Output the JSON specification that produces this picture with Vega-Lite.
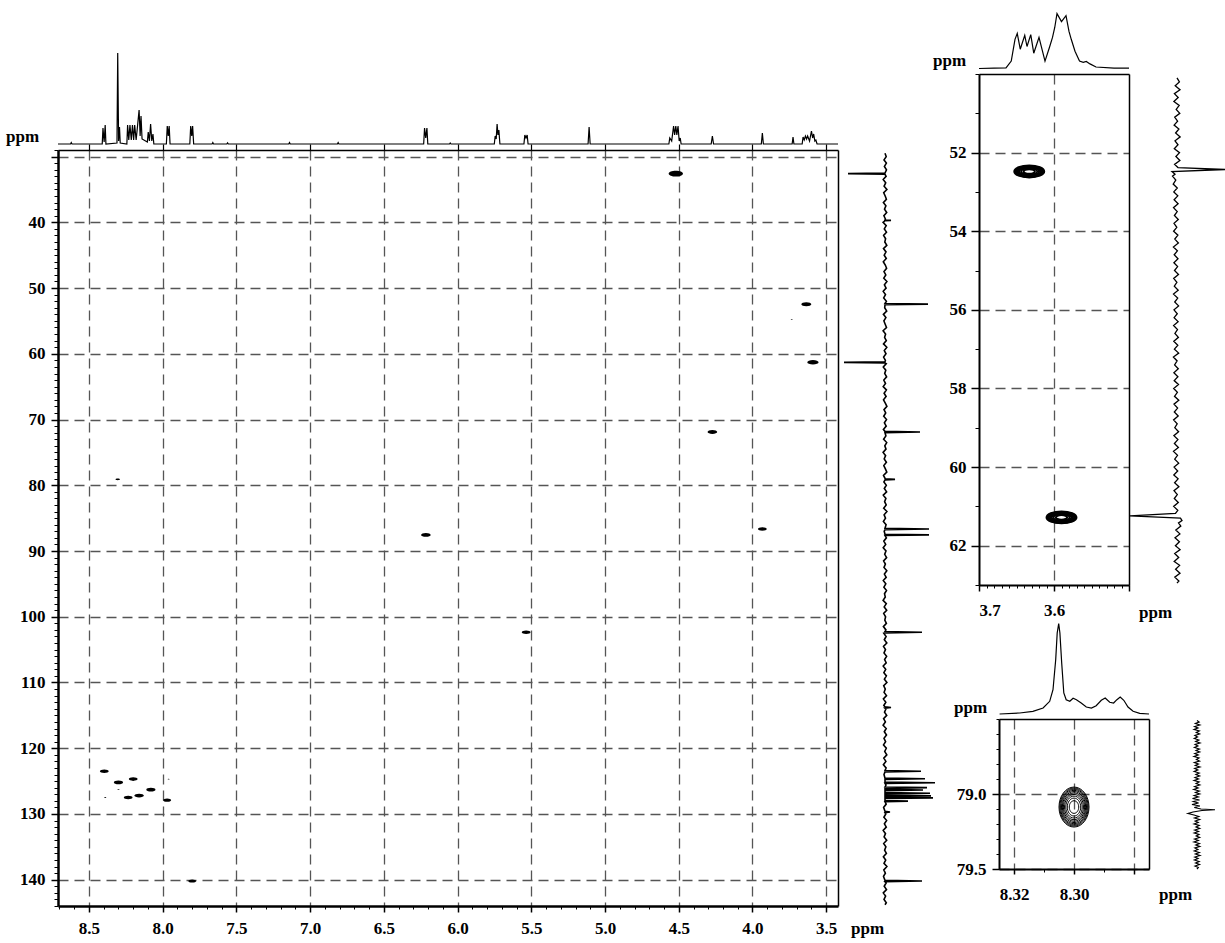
{
"$schema": "https://vega.github.io/schema/vega-lite/v6.json",
"width": 1225, "height": 943,
"autosize": {"type": "none"},
"padding": 0,
"background": "white",
"config": {
  "view": {"stroke": null},
  "axis": {"labelFont": "Liberation Serif", "labelFontWeight": "bold", "labelFontSize": 17, "labelColor": "black",
           "titleFont": "Liberation Serif", "titleFontWeight": "bold", "titleFontSize": 17, "titleColor": "black",
           "domainColor": "black", "tickColor": "black", "gridColor": "#555555", "gridDash": [10, 6], "gridWidth": 1.3, "gridOpacity": 1}
},
"datasets": {
  "none": [],
  "hsqc": [
    {"h":4.52,"c":32.6,"int":0.8},{"h":3.635,"c":52.48,"int":0.39},{"h":3.734,"c":54.8,"int":0.02},
    {"h":3.59,"c":61.28,"int":0.5},{"h":4.272,"c":71.9,"int":0.36},{"h":8.305,"c":79.1,"int":0.08},
    {"h":6.215,"c":87.55,"int":0.36},{"h":3.933,"c":86.65,"int":0.3},{"h":5.535,"c":102.35,"int":0.3},
    {"h":7.8,"c":140.2,"int":0.25},{"h":8.396,"c":123.5,"int":0.3},{"h":8.3,"c":125.2,"int":0.33},
    {"h":8.2,"c":124.7,"int":0.3},{"h":8.234,"c":127.5,"int":0.3},{"h":8.16,"c":127.2,"int":0.36},
    {"h":8.08,"c":126.3,"int":0.33},{"h":7.97,"c":127.9,"int":0.25},{"h":8.3,"c":126.3,"int":0.02},
    {"h":8.39,"c":127.5,"int":0.02},{"h":7.96,"c":124.7,"int":0.02}
  ],
  "top": [
    {"h":8.71,"i":0},{"h":8.625,"i":0},{"h":8.62,"i":1.5},{"h":8.615,"i":0},
    {"h":8.41,"i":0},{"h":8.405,"i":16},{"h":8.397,"i":2},{"h":8.39,"i":19},{"h":8.385,"i":0},
    {"h":8.31,"i":1},{"h":8.305,"i":91},{"h":8.299,"i":3},{"h":8.293,"i":17},{"h":8.288,"i":1},
    {"h":8.243,"i":0},{"h":8.238,"i":19},{"h":8.23,"i":4},{"h":8.222,"i":19},{"h":8.213,"i":4},{"h":8.205,"i":19},{"h":8.197,"i":4},{"h":8.19,"i":19},{"h":8.18,"i":4},{"h":8.16,"i":34},{"h":8.153,"i":8},{"h":8.147,"i":28},{"h":8.14,"i":5},
    {"h":8.104,"i":2},{"h":8.098,"i":12},{"h":8.09,"i":3},{"h":8.082,"i":20},{"h":8.074,"i":3},{"h":8.066,"i":10},{"h":8.06,"i":0},
    {"h":7.975,"i":0},{"h":7.969,"i":18},{"h":7.962,"i":8},{"h":7.956,"i":18},{"h":7.95,"i":0},
    {"h":7.816,"i":0},{"h":7.81,"i":18},{"h":7.803,"i":8},{"h":7.797,"i":18},{"h":7.79,"i":0},
    {"h":7.665,"i":0},{"h":7.66,"i":1.5},{"h":7.655,"i":0},
    {"h":7.565,"i":0},{"h":7.56,"i":1.2},{"h":7.555,"i":0},
    {"h":7.145,"i":0},{"h":7.14,"i":1.5},{"h":7.135,"i":0},
    {"h":6.815,"i":0},{"h":6.81,"i":1.5},{"h":6.805,"i":0},
    {"h":6.23,"i":0},{"h":6.224,"i":16},{"h":6.216,"i":6},{"h":6.208,"i":16},{"h":6.202,"i":0},
    {"h":6.055,"i":0},{"h":6.05,"i":1},{"h":6.045,"i":0},
    {"h":5.751,"i":0},{"h":5.745,"i":8},{"h":5.738,"i":5},{"h":5.732,"i":20},{"h":5.726,"i":9},{"h":5.72,"i":14},{"h":5.713,"i":0},
    {"h":5.55,"i":0},{"h":5.544,"i":9},{"h":5.536,"i":6},{"h":5.528,"i":9},{"h":5.522,"i":0},
    {"h":5.115,"i":0},{"h":5.108,"i":17},{"h":5.101,"i":0},
    {"h":4.567,"i":0},{"h":4.561,"i":6},{"h":4.548,"i":3},{"h":4.535,"i":18},{"h":4.528,"i":9},{"h":4.52,"i":18},{"h":4.513,"i":9},{"h":4.505,"i":18},{"h":4.497,"i":3},{"h":4.49,"i":6},{"h":4.484,"i":0},
    {"h":4.28,"i":0},{"h":4.272,"i":8},{"h":4.264,"i":0},
    {"h":3.94,"i":0},{"h":3.933,"i":11},{"h":3.926,"i":0},
    {"h":3.731,"i":0},{"h":3.725,"i":7},{"h":3.719,"i":0},
    {"h":3.663,"i":0},{"h":3.657,"i":7},{"h":3.649,"i":4},{"h":3.641,"i":8},{"h":3.633,"i":5},{"h":3.626,"i":8},{"h":3.613,"i":3},{"h":3.6,"i":13},{"h":3.592,"i":6},{"h":3.585,"i":10},{"h":3.577,"i":3},{"h":3.57,"i":4},{"h":3.562,"i":0},
    {"h":3.42,"i":0}
  ],
  "right": [
    {"c":29.5,"i":0},{"c":30,"i":1.2},{"c":30.5,"i":-1},{"c":31,"i":1.4},{"c":31.5,"i":-0.6},{"c":32,"i":1.5},{"c":32.5,"i":0},{"c":32.6,"i":-37},{"c":32.7,"i":0},
    {"c":33,"i":1.1},{"c":33.5,"i":-1.8},{"c":34,"i":0.7},{"c":34.5,"i":-0.9},{"c":35,"i":1.9},{"c":35.5,"i":-1.3},{"c":36,"i":0.2},{"c":36.5,"i":1.4},{"c":37,"i":-1.6},{"c":37.5,"i":0.9},{"c":38,"i":-0.5},{"c":38.5,"i":1.7},{"c":39,"i":-1.1},{"c":39.5,"i":0.4},{"c":39.65,"i":0},{"c":39.7,"i":6},{"c":39.75,"i":0},
    {"c":40,"i":-1.9},{"c":40.5,"i":1.2},{"c":41,"i":-0.7},{"c":41.5,"i":1.5},{"c":42,"i":-1.4},{"c":42.5,"i":0.6},{"c":43,"i":-0.2},{"c":43.5,"i":1.8},{"c":44,"i":-1.5},{"c":44.5,"i":1.0},{"c":45,"i":-0.8},{"c":45.5,"i":1.3},{"c":46,"i":-1.7},{"c":46.5,"i":0.3},{"c":47,"i":1.6},{"c":47.5,"i":-1.0},{"c":48,"i":0.8},{"c":48.5,"i":-1.2},{"c":49,"i":1.9},{"c":49.5,"i":-0.6},{"c":50,"i":1.1},{"c":50.5,"i":-1.8},{"c":51,"i":0.5},{"c":51.5,"i":-1.3},{"c":52,"i":1.4},{"c":52.35,"i":0},{"c":52.45,"i":43},{"c":52.55,"i":0},
    {"c":53,"i":-0.3},{"c":53.5,"i":1.7},{"c":54,"i":-1.6},{"c":54.5,"i":0.9},{"c":55,"i":-1.1},{"c":55.5,"i":0.2},{"c":56,"i":1.5},{"c":56.5,"i":-1.9},{"c":57,"i":0.6},{"c":57.5,"i":-0.4},{"c":58,"i":1.3},{"c":58.5,"i":-1.5},{"c":59,"i":1.8},{"c":59.5,"i":-0.7},{"c":60,"i":1.0},{"c":60.5,"i":-1.4},{"c":61,"i":0.4},{"c":61.2,"i":0},{"c":61.3,"i":-41},{"c":61.4,"i":0},
    {"c":61.5,"i":1.2},{"c":62,"i":-1.7},{"c":62.5,"i":0.8},{"c":63,"i":-0.3},{"c":63.5,"i":1.6},{"c":64,"i":-1.2},{"c":64.5,"i":0.5},{"c":65,"i":-1.8},{"c":65.5,"i":1.4},{"c":66,"i":-0.9},{"c":66.5,"i":1.1},{"c":67,"i":-1.5},{"c":67.5,"i":0.3},{"c":68,"i":1.9},{"c":68.5,"i":-1.0},{"c":69,"i":0.7},{"c":69.5,"i":-1.3},{"c":70,"i":1.5},{"c":70.5,"i":-0.6},{"c":71,"i":1.2},{"c":71.5,"i":-1.6},{"c":71.8,"i":0},{"c":71.9,"i":35},{"c":72,"i":0},
    {"c":72.5,"i":0.9},{"c":73,"i":-1.4},{"c":73.5,"i":1.7},{"c":74,"i":-0.2},{"c":74.5,"i":1.0},{"c":75,"i":-1.9},{"c":75.5,"i":0.6},{"c":76,"i":-0.8},{"c":76.5,"i":1.4},{"c":77,"i":-1.2},{"c":77.5,"i":0.4},{"c":78,"i":1.8},{"c":78.5,"i":-1.5},{"c":79,"i":0.2},{"c":79.1,"i":10},{"c":79.2,"i":0},
    {"c":79.5,"i":-1.1},{"c":80,"i":1.3},{"c":80.5,"i":-0.7},{"c":81,"i":1.6},{"c":81.5,"i":-1.7},{"c":82,"i":0.9},{"c":82.5,"i":-0.4},{"c":83,"i":1.2},{"c":83.5,"i":-1.3},{"c":84,"i":1.9},{"c":84.5,"i":-0.9},{"c":85,"i":0.5},{"c":85.5,"i":-1.6},{"c":86,"i":1.1},{"c":86.55,"i":0},{"c":86.65,"i":44},{"c":86.75,"i":0},{"c":87,"i":-0.8},{"c":87.45,"i":0},{"c":87.55,"i":44},{"c":87.65,"i":0},
    {"c":88,"i":1.4},{"c":88.5,"i":-1.2},{"c":89,"i":0.7},{"c":89.5,"i":-1.8},{"c":90,"i":1.0},{"c":90.5,"i":-0.3},{"c":91,"i":1.6},{"c":91.5,"i":-1.4},{"c":92,"i":0.4},{"c":92.5,"i":-1.0},{"c":93,"i":1.8},{"c":93.5,"i":-0.6},{"c":94,"i":1.2},{"c":94.5,"i":-1.7},{"c":95,"i":0.8},{"c":95.5,"i":-1.1},{"c":96,"i":1.5},{"c":96.5,"i":-0.5},{"c":97,"i":0.3},{"c":97.5,"i":-1.9},{"c":98,"i":1.3},{"c":98.5,"i":-0.8},{"c":99,"i":1.7},{"c":99.5,"i":-1.3},{"c":100,"i":0.6},{"c":100.5,"i":-0.2},{"c":101,"i":1.4},{"c":101.5,"i":-1.6},{"c":102,"i":0.9},{"c":102.25,"i":0},{"c":102.35,"i":37},{"c":102.45,"i":0},
    {"c":102.5,"i":-1.2},{"c":103,"i":1.1},{"c":103.5,"i":-0.7},{"c":104,"i":1.8},{"c":104.5,"i":-1.5},{"c":105,"i":0.5},{"c":105.5,"i":-1.0},{"c":106,"i":1.6},{"c":106.5,"i":-0.4},{"c":107,"i":1.2},{"c":107.5,"i":-1.8},{"c":108,"i":0.7},{"c":108.5,"i":-1.1},{"c":109,"i":1.4},{"c":109.5,"i":-0.6},{"c":110,"i":1.9},{"c":110.5,"i":-1.3},{"c":111,"i":0.3},{"c":111.5,"i":-0.9},{"c":112,"i":1.5},{"c":112.5,"i":-1.6},{"c":113,"i":0.8},{"c":113.5,"i":-1.2},{"c":113.7,"i":0},{"c":113.8,"i":6},{"c":113.9,"i":0},
    {"c":114,"i":1.0},{"c":114.5,"i":-0.5},{"c":115,"i":1.7},{"c":115.5,"i":-1.4},{"c":116,"i":0.4},{"c":116.5,"i":-1.9},{"c":117,"i":1.2},{"c":117.5,"i":-0.7},{"c":118,"i":1.5},{"c":118.5,"i":-1.0},{"c":119,"i":0.6},{"c":119.5,"i":-1.5},{"c":120,"i":1.3},{"c":120.5,"i":-0.3},{"c":121,"i":1.8},{"c":121.5,"i":-1.2},{"c":122,"i":0.9},{"c":122.5,"i":-1.6},{"c":123,"i":1.1},
    {"c":123.4,"i":0},{"c":123.5,"i":36},{"c":123.6,"i":0},{"c":124,"i":-1},{"c":124.55,"i":0},{"c":124.65,"i":40},{"c":124.75,"i":0},{"c":125.15,"i":0},{"c":125.25,"i":50},{"c":125.35,"i":0},{"c":125.6,"i":1},{"c":125.9,"i":0},{"c":126.0,"i":42},{"c":126.1,"i":0},{"c":126.25,"i":0},{"c":126.35,"i":38},{"c":126.45,"i":0},{"c":126.75,"i":0},{"c":126.85,"i":45},{"c":126.95,"i":0},{"c":127.15,"i":0},{"c":127.25,"i":46},{"c":127.35,"i":0},{"c":127.45,"i":0},{"c":127.55,"i":48},{"c":127.65,"i":0},{"c":127.95,"i":0},{"c":128.05,"i":23},{"c":128.15,"i":0},
    {"c":128.5,"i":1.2},{"c":129,"i":-1.4},{"c":129.6,"i":0},{"c":129.7,"i":5},{"c":129.8,"i":0},{"c":130,"i":0.8},{"c":130.5,"i":-1.1},{"c":131,"i":1.6},{"c":131.5,"i":-0.6},{"c":132,"i":1.3},{"c":132.5,"i":-1.8},{"c":133,"i":0.5},{"c":133.5,"i":-0.9},{"c":134,"i":1.7},{"c":134.5,"i":-1.3},{"c":135,"i":0.9},{"c":135.5,"i":-0.4},{"c":136,"i":1.4},{"c":136.5,"i":-1.6},{"c":137,"i":0.7},{"c":137.5,"i":-1.0},{"c":138,"i":1.9},{"c":138.5,"i":-1.2},{"c":139,"i":0.4},{"c":139.5,"i":-1.5},{"c":140.1,"i":0},{"c":140.2,"i":37},{"c":140.3,"i":0},
    {"c":140.5,"i":1.1},{"c":141,"i":-0.8},{"c":141.5,"i":1.5},{"c":142,"i":-1.7},{"c":142.5,"i":0.6},{"c":143,"i":-1.0},{"c":143.5,"i":1.3},{"c":143.8,"i":0}
  ],
  "ins1": [
    {"h":3.633,"c":52.48,"lev":1},{"h":3.633,"c":52.48,"lev":2},{"h":3.633,"c":52.48,"lev":3},{"h":3.633,"c":52.48,"lev":4},{"h":3.633,"c":52.48,"lev":5},{"h":3.633,"c":52.48,"lev":6},{"h":3.633,"c":52.48,"lev":7},
    {"h":3.59,"c":61.28,"lev":1},{"h":3.59,"c":61.28,"lev":2},{"h":3.59,"c":61.28,"lev":3},{"h":3.59,"c":61.28,"lev":4},{"h":3.59,"c":61.28,"lev":5},{"h":3.59,"c":61.28,"lev":6},{"h":3.59,"c":61.28,"lev":7}
  ],
  "ins1top": [
    {"h":3.7,"i":0.5},{"h":3.68,"i":0.8},{"h":3.664,"i":1.2},{"h":3.657,"i":7.9},{"h":3.652,"i":29.7},{"h":3.649,"i":35.6},{"h":3.645,"i":19.8},{"h":3.639,"i":33.6},{"h":3.636,"i":22.5},{"h":3.631,"i":34.4},{"h":3.627,"i":15.8},{"h":3.62,"i":31.6},{"h":3.612,"i":7.9},{"h":3.606,"i":21.7},{"h":3.602,"i":31.6},{"h":3.599,"i":41.5},{"h":3.596,"i":55.4},{"h":3.59,"i":47.4},{"h":3.584,"i":53.4},{"h":3.58,"i":37.6},{"h":3.577,"i":29.7},{"h":3.572,"i":17.8},{"h":3.566,"i":7.9},{"h":3.561,"i":6.7},{"h":3.557,"i":7.5},{"h":3.552,"i":5.1},{"h":3.544,"i":2},{"h":3.52,"i":0.8},{"h":3.5,"i":0.8}
  ],
  "ins1right": [
    {"c":50.1,"i":0},{"c":50.2,"i":2.4},{"c":50.3,"i":-1.8},{"c":50.4,"i":3.0},{"c":50.5,"i":-2.6},{"c":50.6,"i":1.2},{"c":50.7,"i":-3.1},{"c":50.8,"i":2.2},{"c":50.9,"i":-0.8},{"c":51.0,"i":2.8},{"c":51.1,"i":-2.3},{"c":51.2,"i":0.6},{"c":51.3,"i":-2.9},{"c":51.4,"i":1.9},{"c":51.5,"i":-1.4},{"c":51.6,"i":3.2},{"c":51.7,"i":-2.0},{"c":51.8,"i":1.0},{"c":51.9,"i":-2.7},{"c":52.0,"i":2.5},{"c":52.1,"i":-1.1},{"c":52.2,"i":2.9},{"c":52.3,"i":-2.4},{"c":52.38,"i":1.0},{"c":52.43,"i":48},{"c":52.48,"i":-5},{"c":52.55,"i":-2},{"c":52.6,"i":-4.5},{"c":52.7,"i":-1.2},{"c":52.8,"i":-3.8},{"c":52.9,"i":0.3},
    {"c":53.0,"i":-3.2},{"c":53.1,"i":0.8},{"c":53.2,"i":-2.9},{"c":53.3,"i":1.1},{"c":53.4,"i":-3.5},{"c":53.5,"i":0.2},{"c":53.6,"i":-2.6},{"c":53.7,"i":1.3},{"c":53.8,"i":-3.0},{"c":53.9,"i":-0.2},{"c":54.0,"i":-3.4},{"c":54.1,"i":0.9},{"c":54.2,"i":-2.2},{"c":54.3,"i":1.4},{"c":54.4,"i":-3.6},{"c":54.5,"i":0.4},{"c":54.6,"i":-2.8},{"c":54.7,"i":1.0},{"c":54.8,"i":-3.1},{"c":54.9,"i":0.6},
    {"c":55.0,"i":-2.5},{"c":55.1,"i":1.5},{"c":55.2,"i":-3.3},{"c":55.3,"i":-0.1},{"c":55.4,"i":-2.7},{"c":55.5,"i":1.2},{"c":55.6,"i":-3.5},{"c":55.7,"i":0.7},{"c":55.8,"i":-2.3},{"c":55.9,"i":1.6},{"c":56.0,"i":-3.0},{"c":56.1,"i":0.3},{"c":56.2,"i":-2.9},{"c":56.3,"i":1.1},{"c":56.4,"i":-3.4},{"c":56.5,"i":0.5},{"c":56.6,"i":-2.1},{"c":56.7,"i":1.4},{"c":56.8,"i":-3.2},{"c":56.9,"i":0.8},
    {"c":57.0,"i":-2.6},{"c":57.1,"i":1.7},{"c":57.2,"i":-3.6},{"c":57.3,"i":0.1},{"c":57.4,"i":-2.4},{"c":57.5,"i":1.3},{"c":57.6,"i":-3.1},{"c":57.7,"i":0.9},{"c":57.8,"i":-2.8},{"c":57.9,"i":1.5},{"c":58.0,"i":-3.3},{"c":58.1,"i":0.4},{"c":58.2,"i":-2.5},{"c":58.3,"i":1.8},{"c":58.4,"i":-3.0},{"c":58.5,"i":0.6},{"c":58.6,"i":-2.7},{"c":58.7,"i":1.2},{"c":58.8,"i":-3.4},{"c":58.9,"i":0.2},
    {"c":59.0,"i":-2.2},{"c":59.1,"i":1.6},{"c":59.2,"i":-3.1},{"c":59.3,"i":0.9},{"c":59.4,"i":-2.6},{"c":59.5,"i":1.4},{"c":59.6,"i":-3.5},{"c":59.7,"i":0.5},{"c":59.8,"i":-2.3},{"c":59.9,"i":1.7},{"c":60.0,"i":-2.9},{"c":60.1,"i":0.7},{"c":60.2,"i":-3.2},{"c":60.3,"i":1.1},{"c":60.4,"i":-2.4},{"c":60.5,"i":1.9},{"c":60.6,"i":-3.0},{"c":60.7,"i":0.3},{"c":60.8,"i":-2.7},{"c":60.9,"i":1.3},
    {"c":61.0,"i":-3.3},{"c":61.1,"i":0.8},{"c":61.18,"i":-1.5},{"c":61.24,"i":-47},{"c":61.3,"i":3.5},{"c":61.36,"i":5},{"c":61.42,"i":1.5},{"c":61.5,"i":3.8},{"c":61.6,"i":-1.2},{"c":61.7,"i":2.9},{"c":61.8,"i":-2.0},{"c":61.9,"i":2.4},{"c":62.0,"i":-1.6},{"c":62.1,"i":3.1},{"c":62.2,"i":-2.3},{"c":62.3,"i":1.7},{"c":62.4,"i":-2.8},{"c":62.5,"i":2.6},{"c":62.6,"i":-1.4},{"c":62.7,"i":3.0},{"c":62.8,"i":-2.2},{"c":62.9,"i":1.9},{"c":62.95,"i":0}
  ],
  "ins2": [
    {"h":8.3,"c":79.087,"lev":1},{"h":8.3,"c":79.087,"lev":2},{"h":8.3,"c":79.087,"lev":3},{"h":8.3,"c":79.087,"lev":4},{"h":8.3,"c":79.087,"lev":5},
    {"h":8.3,"c":79.087,"lev":6},{"h":8.3,"c":79.087,"lev":7},{"h":8.3,"c":79.087,"lev":8},{"h":8.3,"c":79.087,"lev":9},{"h":8.3,"c":79.087,"lev":10}
  ],
  "ins2top": [
    {"h":8.3248,"i":0},{"h":8.3181,"i":1},{"h":8.3137,"i":2.7},{"h":8.3103,"i":6},{"h":8.3081,"i":12.7},{"h":8.307,"i":24.3},{"h":8.3061,"i":54.3},{"h":8.3056,"i":81},{"h":8.3051,"i":90.3},{"h":8.3047,"i":81},{"h":8.3041,"i":51},{"h":8.3034,"i":21},{"h":8.3026,"i":14.3},{"h":8.3014,"i":12.7},{"h":8.3003,"i":15.7},{"h":8.2992,"i":14.3},{"h":8.2976,"i":11},{"h":8.2959,"i":7},{"h":8.2942,"i":6},{"h":8.2926,"i":8.3},{"h":8.2909,"i":13.7},{"h":8.2896,"i":16},{"h":8.2881,"i":11.7},{"h":8.2868,"i":11},{"h":8.2857,"i":14.3},{"h":8.2846,"i":17},{"h":8.2834,"i":13.7},{"h":8.282,"i":7},{"h":8.2803,"i":2.7},{"h":8.2781,"i":0.7},{"h":8.275,"i":0}
  ],
  "ins2right": [
    {"c":78.51,"i":0},{"c":78.52,"i":2.1},{"c":78.53,"i":-1.6},{"c":78.54,"i":2.8},{"c":78.55,"i":-2.4},{"c":78.56,"i":1.0},{"c":78.57,"i":-2.9},{"c":78.58,"i":2.3},{"c":78.59,"i":-0.7},{"c":78.6,"i":2.6},{"c":78.61,"i":-2.1},{"c":78.62,"i":0.5},{"c":78.63,"i":-2.7},{"c":78.64,"i":1.8},{"c":78.65,"i":-1.3},{"c":78.66,"i":3.0},{"c":78.67,"i":-1.9},{"c":78.68,"i":0.9},{"c":78.69,"i":-2.5},{"c":78.7,"i":2.4},
    {"c":78.71,"i":-1.0},{"c":78.72,"i":2.7},{"c":78.73,"i":-2.2},{"c":78.74,"i":1.2},{"c":78.75,"i":-3.0},{"c":78.76,"i":2.0},{"c":78.77,"i":-0.6},{"c":78.78,"i":2.5},{"c":78.79,"i":-2.6},{"c":78.8,"i":1.4},{"c":78.81,"i":-1.7},{"c":78.82,"i":2.9},{"c":78.83,"i":-2.3},{"c":78.84,"i":0.8},{"c":78.85,"i":-2.8},{"c":78.86,"i":2.2},{"c":78.87,"i":-1.1},{"c":78.88,"i":2.6},{"c":78.89,"i":-2.0},{"c":78.9,"i":1.5},
    {"c":78.91,"i":-2.9},{"c":78.92,"i":2.1},{"c":78.93,"i":-0.9},{"c":78.94,"i":2.8},{"c":78.95,"i":-2.4},{"c":78.96,"i":1.1},{"c":78.97,"i":-3.2},{"c":78.98,"i":2.3},{"c":78.99,"i":-1.5},{"c":79.0,"i":2.7},{"c":79.01,"i":-2.8},{"c":79.02,"i":1.3},{"c":79.03,"i":-4.5},{"c":79.04,"i":2.5},{"c":79.05,"i":-3.6},{"c":79.06,"i":1.6},{"c":79.07,"i":-5.0},{"c":79.08,"i":2.9},{"c":79.09,"i":-2.7},{"c":79.1,"i":4},
    {"c":79.105,"i":18},{"c":79.11,"i":5},{"c":79.12,"i":-4},{"c":79.13,"i":-9},{"c":79.14,"i":-3},{"c":79.15,"i":1.8},{"c":79.16,"i":-2.5},{"c":79.17,"i":2.6},{"c":79.18,"i":-1.8},{"c":79.19,"i":1.2},{"c":79.2,"i":-2.9},{"c":79.21,"i":2.2},{"c":79.22,"i":-1.0},{"c":79.23,"i":2.7},{"c":79.24,"i":-2.3},{"c":79.25,"i":1.5},{"c":79.26,"i":-2.8},{"c":79.27,"i":2.0},{"c":79.28,"i":-0.8},{"c":79.29,"i":2.6},
    {"c":79.3,"i":-2.4},{"c":79.31,"i":1.3},{"c":79.32,"i":-3.0},{"c":79.33,"i":2.4},{"c":79.34,"i":-1.2},{"c":79.35,"i":2.8},{"c":79.36,"i":-2.1},{"c":79.37,"i":0.9},{"c":79.38,"i":-2.7},{"c":79.39,"i":2.3},{"c":79.4,"i":-1.6},{"c":79.41,"i":2.9},{"c":79.42,"i":-2.2},{"c":79.43,"i":1.1},{"c":79.44,"i":-2.6},{"c":79.45,"i":2.1},{"c":79.46,"i":-1.4},{"c":79.47,"i":2.5},{"c":79.48,"i":-2.0},{"c":79.49,"i":1.3},{"c":79.5,"i":0}
  ]
},
"resolve": {"scale": {"x": "independent", "y": "independent", "size": "independent"}, "axis": {"x": "independent", "y": "independent"}},
"layer": [
  {
    "resolve": {"axis": {"x": "independent", "y": "independent"}},
    "layer": [
      {
        "data": {"name": "hsqc"},
        "mark": {"type": "point", "shape": "M-1,0A1,0.4,0,1,1,1,0A1,0.4,0,1,1,-1,0Z", "filled": true, "color": "black", "opacity": 1, "strokeWidth": 0},
        "encoding": {
          "x": {"field": "h", "type": "quantitative", "scale": {"domain": [8.71, 3.42], "range": [58, 838], "nice": false, "zero": false},
                "axis": {"orient": "bottom", "offset": -37, "values": [8.5,8,7.5,7,6.5,6,5.5,5,4.5,4,3.5], "format": ".1f", "tickSize": 6, "tickWidth": 1.5, "domainWidth": 2.5, "labelPadding": 8, "grid": false, "labelOverlap": false,
                         "title": "ppm", "titleX": 867, "titleY": 27, "titleAngle": 0, "titleAlign": "center", "titleBaseline": "alphabetic"}},
          "y": {"field": "c", "type": "quantitative", "scale": {"domain": [29, 144], "range": [150, 906], "nice": false, "zero": false},
                "axis": {"orient": "left", "offset": -58, "values": [30,40,50,60,70,80,90,100,110,120,130,140], "labelExpr": "datum.value == 30 ? '' : datum.label", "tickSize": 7, "tickWidth": 1.5, "domainWidth": 2.5, "labelPadding": 6, "grid": true, "title": null, "labelOverlap": false}},
          "size": {"field": "int", "type": "quantitative", "scale": {"domain": [0, 1], "range": [0, 256]}, "legend": null}
        }
      },
      {
        "data": {"name": "none"},
        "mark": "point",
        "encoding": {
          "x": {"field": "h", "type": "quantitative", "scale": {"domain": [8.71, 3.42], "range": [58, 838], "nice": false, "zero": false},
                "axis": {"orient": "top", "offset": -150, "values": [8.5,8,7.5,7,6.5,6,5.5,5,4.5,4,3.5], "tickSize": 6, "tickWidth": 1.2, "labels": false, "domainWidth": 1.5, "grid": true, "title": null}},
          "y": {"field": "c", "type": "quantitative", "scale": {"domain": [29, 144], "range": [150, 906], "nice": false, "zero": false},
                "axis": {"orient": "right", "offset": -387, "ticks": false, "labels": false, "domainWidth": 1.5, "grid": false, "title": null}}
        }
      },
      {
        "data": {"name": "none"},
        "mark": "point",
        "encoding": {
          "x": {"field": "h", "type": "quantitative", "scale": {"domain": [8.71, 3.42], "range": [58, 838], "nice": false, "zero": false},
                "axis": {"orient": "bottom", "offset": -37, "tickCount": 53, "tickSize": 3, "tickWidth": 1, "labels": false, "domain": false, "grid": false, "title": null}},
          "y": {"field": "c", "type": "quantitative", "scale": {"domain": [29, 144], "range": [150, 906], "nice": false, "zero": false},
                "axis": {"orient": "left", "offset": -58, "tickCount": 115, "tickSize": 4, "tickWidth": 1, "labels": false, "domain": false, "grid": false, "title": null}}
        }
      }
    ]
  },
  {
    "data": {"name": "top"},
    "mark": {"type": "line", "color": "black", "strokeWidth": 1.2},
    "encoding": {
      "x": {"field": "h", "type": "quantitative", "scale": {"domain": [8.71, 3.42], "range": [58, 838], "nice": false, "zero": false}, "axis": null},
      "y": {"field": "i", "type": "quantitative", "scale": {"domain": [0, 100], "range": [144, 44], "nice": false, "zero": false},
            "axis": {"orient": "left", "offset": -58, "labels": false, "ticks": false, "domain": false, "grid": false, "title": "ppm", "titleAngle": 0, "titleAlign": "center", "titleBaseline": "alphabetic", "titleX": -36, "titleY": 141}}
    }
  },
  {
    "data": {"name": "right"},
    "mark": {"type": "line", "color": "black", "strokeWidth": 1.6},
    "encoding": {
      "x": {"field": "i", "type": "quantitative", "scale": {"domain": [-42, 50], "range": [843, 935], "nice": false, "zero": false}, "axis": null},
      "y": {"field": "c", "type": "quantitative", "scale": {"domain": [29, 144], "range": [150, 906], "nice": false, "zero": false}, "axis": null},
      "order": {"field": "c", "type": "quantitative"}
    }
  },
  {
    "resolve": {"axis": {"x": "independent", "y": "independent"}},
    "layer": [
      {
        "data": {"name": "ins1"},
        "mark": {"type": "point", "shape": "M-1,0A1,0.4,0,1,1,1,0A1,0.4,0,1,1,-1,0Z", "filled": false, "color": "black", "opacity": 1, "strokeWidth": 1.9},
        "encoding": {
          "x": {"field": "h", "type": "quantitative", "scale": {"domain": [3.7, 3.5], "range": [979, 1129], "nice": false, "zero": false},
                "axis": {"orient": "bottom", "offset": -358, "values": [3.7, 3.6, 3.5], "labelExpr": "datum.value < 3.55 ? '' : datum.label", "format": ".1f", "tickSize": 6, "tickWidth": 1.5, "domainWidth": 2, "labelPadding": 11, "grid": false, "labelOverlap": false,
                         "title": "ppm", "titleX": 1155, "titleY": 32, "titleAngle": 0, "titleAlign": "center", "titleBaseline": "alphabetic"}},
          "y": {"field": "c", "type": "quantitative", "scale": {"domain": [50, 63], "range": [74, 585], "nice": false, "zero": false},
                "axis": {"orient": "left", "offset": -979, "values": [52,54,56,58,60,62], "tickSize": 8, "tickWidth": 1.5, "domainWidth": 2, "labelPadding": 5, "grid": true, "title": null, "labelOverlap": false}},
          "size": {"field": "lev", "type": "quantitative", "scale": {"domain": [0, 7], "range": [0, 900]}, "legend": null}
        }
      },
      {
        "data": {"name": "none"},
        "mark": "point",
        "encoding": {
          "x": {"field": "h", "type": "quantitative", "scale": {"domain": [3.7, 3.5], "range": [979, 1129], "nice": false, "zero": false},
                "axis": {"orient": "top", "offset": -74, "values": [3.6], "ticks": false, "labels": false, "domainWidth": 1.5, "grid": true, "title": null}},
          "y": {"field": "c", "type": "quantitative", "scale": {"domain": [50, 63], "range": [74, 585], "nice": false, "zero": false},
                "axis": {"orient": "right", "offset": -96, "ticks": false, "labels": false, "domainWidth": 1.5, "grid": false, "title": null}}
        }
      },
      {
        "data": {"name": "none"},
        "mark": "point",
        "encoding": {
          "x": {"field": "h", "type": "quantitative", "scale": {"domain": [3.7, 3.5], "range": [979, 1129], "nice": false, "zero": false},
                "axis": {"orient": "bottom", "offset": -358, "tickCount": 20, "tickSize": 3, "tickWidth": 1, "labels": false, "domain": false, "grid": false, "title": null}},
          "y": {"field": "c", "type": "quantitative", "scale": {"domain": [50, 63], "range": [74, 585], "nice": false, "zero": false},
                "axis": {"orient": "left", "offset": -979, "tickCount": 13, "tickSize": 4, "tickWidth": 1, "labels": false, "domain": false, "grid": false, "title": null}}
        }
      }
    ]
  },
  {
    "data": {"name": "ins1top"},
    "mark": {"type": "line", "color": "black", "strokeWidth": 1.2},
    "encoding": {
      "x": {"field": "h", "type": "quantitative", "scale": {"domain": [3.7, 3.5], "range": [979, 1129], "nice": false, "zero": false}, "axis": null},
      "y": {"field": "i", "type": "quantitative", "scale": {"domain": [0, 60], "range": [69, 9], "nice": false, "zero": false},
            "axis": {"orient": "left", "offset": -979, "labels": false, "ticks": false, "domain": false, "grid": false, "title": "ppm", "titleAngle": 0, "titleAlign": "center", "titleBaseline": "alphabetic", "titleX": -30, "titleY": 65}}
    }
  },
  {
    "data": {"name": "ins1right"},
    "mark": {"type": "line", "color": "black", "strokeWidth": 1.3},
    "encoding": {
      "x": {"field": "i", "type": "quantitative", "scale": {"domain": [-46, 48], "range": [1131, 1225], "nice": false, "zero": false}, "axis": null},
      "y": {"field": "c", "type": "quantitative", "scale": {"domain": [50, 63], "range": [74, 585], "nice": false, "zero": false}, "axis": null},
      "order": {"field": "c", "type": "quantitative"}
    }
  },
  {
    "resolve": {"axis": {"x": "independent", "y": "independent"}},
    "layer": [
      {
        "data": {"name": "ins2"},
        "mark": {"type": "point", "shape": "M0,-1A0.75,1,0,1,1,0,1A0.75,1,0,1,1,0,-1Z", "filled": false, "color": "black", "opacity": 1, "strokeWidth": 1},
        "encoding": {
          "x": {"field": "h", "type": "quantitative", "scale": {"domain": [8.325, 8.275], "range": [999, 1149], "nice": false, "zero": false},
                "axis": {"orient": "bottom", "offset": -74, "values": [8.32, 8.3, 8.28], "labelExpr": "datum.value < 8.29 ? '' : datum.label", "format": ".2f", "tickSize": 5, "tickWidth": 1.5, "domainWidth": 2, "labelPadding": 12, "grid": false, "labelOverlap": false,
                         "title": "ppm", "titleX": 1175, "titleY": 30, "titleAngle": 0, "titleAlign": "center", "titleBaseline": "alphabetic"}},
          "y": {"field": "c", "type": "quantitative", "scale": {"domain": [78.5, 79.5], "range": [719, 869], "nice": false, "zero": false},
                "axis": {"orient": "left", "offset": -999, "values": [79, 79.5], "format": ".1f", "tickSize": 7, "tickWidth": 1.5, "domainWidth": 2, "labelPadding": 6, "grid": true, "title": null, "labelOverlap": false}},
          "size": {"field": "lev", "type": "quantitative", "scale": {"domain": [0, 10], "range": [0, 1600]}, "legend": null}
        }
      },
      {
        "data": {"name": "none"},
        "mark": "point",
        "encoding": {
          "x": {"field": "h", "type": "quantitative", "scale": {"domain": [8.325, 8.275], "range": [999, 1149], "nice": false, "zero": false},
                "axis": {"orient": "top", "offset": -719, "values": [8.32, 8.3, 8.28], "ticks": false, "labels": false, "domainWidth": 1.5, "grid": true, "title": null}},
          "y": {"field": "c", "type": "quantitative", "scale": {"domain": [78.5, 79.5], "range": [719, 869], "nice": false, "zero": false},
                "axis": {"orient": "right", "offset": -76, "ticks": false, "labels": false, "domainWidth": 1.5, "grid": false, "title": null}}
        }
      },
      {
        "data": {"name": "none"},
        "mark": "point",
        "encoding": {
          "x": {"field": "h", "type": "quantitative", "scale": {"domain": [8.325, 8.275], "range": [999, 1149], "nice": false, "zero": false},
                "axis": {"orient": "bottom", "offset": -74, "tickCount": 5, "tickSize": 3, "tickWidth": 1, "labels": false, "domain": false, "grid": false, "title": null}},
          "y": {"field": "c", "type": "quantitative", "scale": {"domain": [78.5, 79.5], "range": [719, 869], "nice": false, "zero": false},
                "axis": {"orient": "left", "offset": -999, "tickCount": 10, "tickSize": 3, "tickWidth": 1, "labels": false, "domain": false, "grid": false, "title": null}}
        }
      }
    ]
  },
  {
    "data": {"name": "ins2top"},
    "mark": {"type": "line", "color": "black", "strokeWidth": 1.2},
    "encoding": {
      "x": {"field": "h", "type": "quantitative", "scale": {"domain": [8.325, 8.275], "range": [999, 1149], "nice": false, "zero": false}, "axis": null},
      "y": {"field": "i", "type": "quantitative", "scale": {"domain": [0, 95], "range": [714, 619], "nice": false, "zero": false},
            "axis": {"orient": "left", "offset": -999, "labels": false, "ticks": false, "domain": false, "grid": false, "title": "ppm", "titleAngle": 0, "titleAlign": "center", "titleBaseline": "alphabetic", "titleX": -29, "titleY": 712}}
    }
  },
  {
    "data": {"name": "ins2right"},
    "mark": {"type": "line", "color": "black", "strokeWidth": 1.2},
    "encoding": {
      "x": {"field": "i", "type": "quantitative", "scale": {"domain": [-37, 28], "range": [1160, 1225], "nice": false, "zero": false}, "axis": null},
      "y": {"field": "c", "type": "quantitative", "scale": {"domain": [78.5, 79.5], "range": [719, 869], "nice": false, "zero": false}, "axis": null},
      "order": {"field": "c", "type": "quantitative"}
    }
  }
]
}
